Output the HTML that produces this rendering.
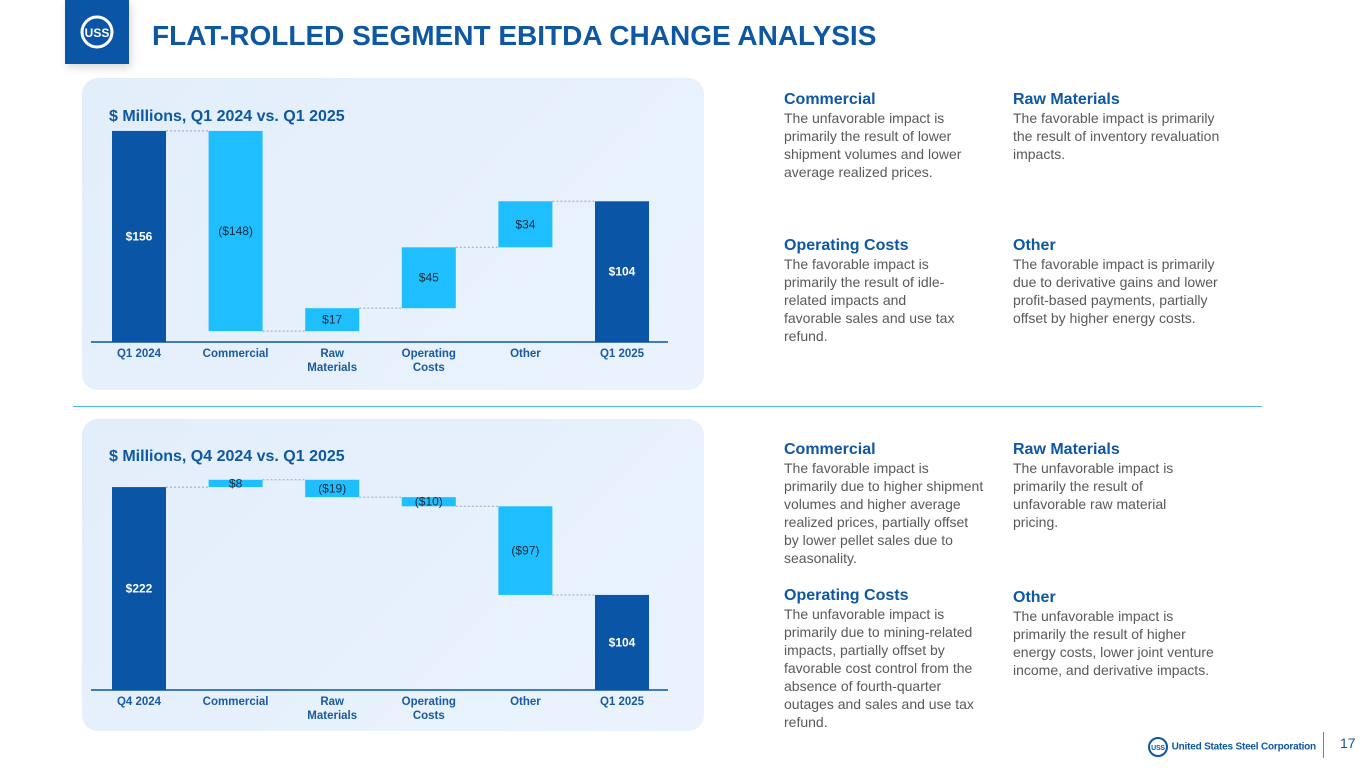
<!DOCTYPE html>
<html><head><meta charset="utf-8"><style>
body{margin:0;width:1365px;height:768px;background:#fff;position:relative;overflow:hidden;font-family:"Liberation Sans",Arial,sans-serif}
.abs{position:absolute}
.panel{position:absolute;left:82px;width:622px;height:312px;border-radius:16px;background:linear-gradient(135deg,#e3eefb,#eaf3fd)}
.sub{position:absolute;left:109px;font-size:16px;font-weight:bold;color:#0e57a3}
.h{font-size:16px;font-weight:bold;color:#0e57a3;line-height:19px}
.t{font-size:14px;color:#595959;line-height:18px;white-space:nowrap}
.blk{position:absolute;width:225px}
</style></head><body>
<div class="abs" style="left:65px;top:0;width:64px;height:64px;background:#0b55a6;box-shadow:2px 4px 8px rgba(0,0,0,.15)">
<svg width="64" height="64"><circle cx="32" cy="32" r="15" fill="none" stroke="#fff" stroke-width="3"/><text x="32" y="37" font-size="12" font-weight="bold" fill="#fff" text-anchor="middle" font-family="Liberation Sans">USS</text></svg></div>
<div class="abs" style="left:152px;top:20px;font-size:28px;font-weight:bold;color:#0e57a3">FLAT-ROLLED SEGMENT EBITDA CHANGE ANALYSIS</div>
<div class="panel" style="top:78px"></div>
<div class="panel" style="top:419px"></div>
<div class="sub" style="top:108px">$ Millions, Q1 2024 vs. Q1 2025</div>
<div class="sub" style="top:448px">$ Millions, Q4 2024 vs. Q1 2025</div>
<svg id="chart" class="abs" style="left:0;top:0" width="720" height="768"></svg>
<div class="abs" style="left:73px;top:406px;width:1189px;height:1px;background:#4db8e8"></div>

<div class="blk" style="left:784px;top:90px"><div class="h">Commercial</div><div class="t">The unfavorable impact is<br>primarily the result of lower<br>shipment volumes and lower<br>average realized prices.</div></div>
<div class="blk" style="left:1013px;top:90px"><div class="h">Raw Materials</div><div class="t">The favorable impact is primarily<br>the result of inventory revaluation<br>impacts.</div></div>
<div class="blk" style="left:784px;top:236px"><div class="h">Operating Costs</div><div class="t">The favorable impact is<br>primarily the result of idle-<br>related impacts and<br>favorable sales and use tax<br>refund.</div></div>
<div class="blk" style="left:1013px;top:236px"><div class="h">Other</div><div class="t">The favorable impact is primarily<br>due to derivative gains and lower<br>profit-based payments, partially<br>offset by higher energy costs.</div></div>
<div class="blk" style="left:784px;top:440px"><div class="h">Commercial</div><div class="t">The favorable impact is<br>primarily due to higher shipment<br>volumes and higher average<br>realized prices, partially offset<br>by lower pellet sales due to<br>seasonality.</div></div>
<div class="blk" style="left:1013px;top:440px"><div class="h">Raw Materials</div><div class="t">The unfavorable impact is<br>primarily the result of<br>unfavorable raw material<br>pricing.</div></div>
<div class="blk" style="left:784px;top:586px"><div class="h">Operating Costs</div><div class="t">The unfavorable impact is<br>primarily due to mining-related<br>impacts, partially offset by<br>favorable cost control from the<br>absence of fourth-quarter<br>outages and sales and use tax<br>refund.</div></div>
<div class="blk" style="left:1013px;top:588px"><div class="h">Other</div><div class="t">The unfavorable impact is<br>primarily the result of higher<br>energy costs, lower joint venture<br>income, and derivative impacts.</div></div>

<div class="abs" style="left:1147px;top:736px;font-size:10px;font-weight:bold;color:#0e57a3;letter-spacing:-0.2px"><svg width="22" height="22" style="vertical-align:middle"><circle cx="11" cy="11" r="9" fill="none" stroke="#0e57a3" stroke-width="2"/><text x="11" y="14" font-size="7" font-weight="bold" fill="#0e57a3" text-anchor="middle">USS</text></svg> <span style="vertical-align:middle">United States Steel Corporation</span></div>
<div class="abs" style="left:1323px;top:732px;width:1px;height:26px;background:#4a8fc8"></div>
<div class="abs" style="left:1340px;top:735px;font-size:14px;color:#0e57a3">17</div>

<script>
const cats1 = ["Q1 2024","Commercial","Raw\nMaterials","Operating\nCosts","Other","Q1 2025"];
const vals1 = [156,-148,17,45,34,104];
const labels1 = ["$156","($148)","$17","$45","$34","$104"];
const cats2 = ["Q4 2024","Commercial","Raw\nMaterials","Operating\nCosts","Other","Q1 2025"];
const vals2 = [222,8,-19,-10,-97,104];
const labels2 = ["$222","$8","($19)","($10)","($97)","$104"];
const svg=document.getElementById('chart');
const NS='http://www.w3.org/2000/svg';
function mk(t,a){const e=document.createElementNS(NS,t);for(const k in a)e.setAttribute(k,a[k]);svg.appendChild(e);return e;}
function draw(cats,vals,labels,base,scale,id){
  const y=v=>base-v*scale;
  const x=i=>112+i*96.6;
  const w=54;
  let run=0,prevTop=null;
  vals.forEach((v,i)=>{
    let y0,y1,total=(i===0||i===vals.length-1);
    if(total){y0=y(v);y1=base;run=v;}
    else{const a=run,b=run+v;y0=y(Math.max(a,b));y1=y(Math.min(a,b));run=b;}
    if(i>0){const l=mk('line',{x1:x(i-1)+w,x2:x(i),y1:prevTop,y2:prevTop,stroke:'#9aa8b8','stroke-width':1,'stroke-dasharray':'2,2'});
      
      }
    const r=mk('rect',{x:x(i),y:y0,width:w,height:Math.max(1,y1-y0),fill:total?'#0b55a6':'#1fbfff'});
    
    
    prevTop=y(run);
    const t=mk('text',{x:x(i)+w/2,y:(y0+y1)/2+4,'font-size':12,'text-anchor':'middle',fill:total?'#fff':'#1a2a3a','font-weight':total?'bold':'normal','font-family':'Liberation Sans'});
    t.textContent=labels[i];
    
    
    cats[i].split('\n').forEach((s,j)=>{
      const c=mk('text',{x:x(i)+w/2,y:base+15+j*14,'font-size':11.5,'text-anchor':'middle',fill:'#1a5aa0','font-weight':'bold','font-family':'Liberation Sans'});
      c.textContent=s;
      
      
    });
  });
  const ax=mk('line',{x1:91,x2:668,y1:base,y2:base,stroke:'#0b55a6','stroke-width':1.5});
  
  
}
draw(cats1,vals1,labels1,342,1.353,'top');
draw(cats2,vals2,labels2,690,0.914,'bottom');
</script>
</body></html>
